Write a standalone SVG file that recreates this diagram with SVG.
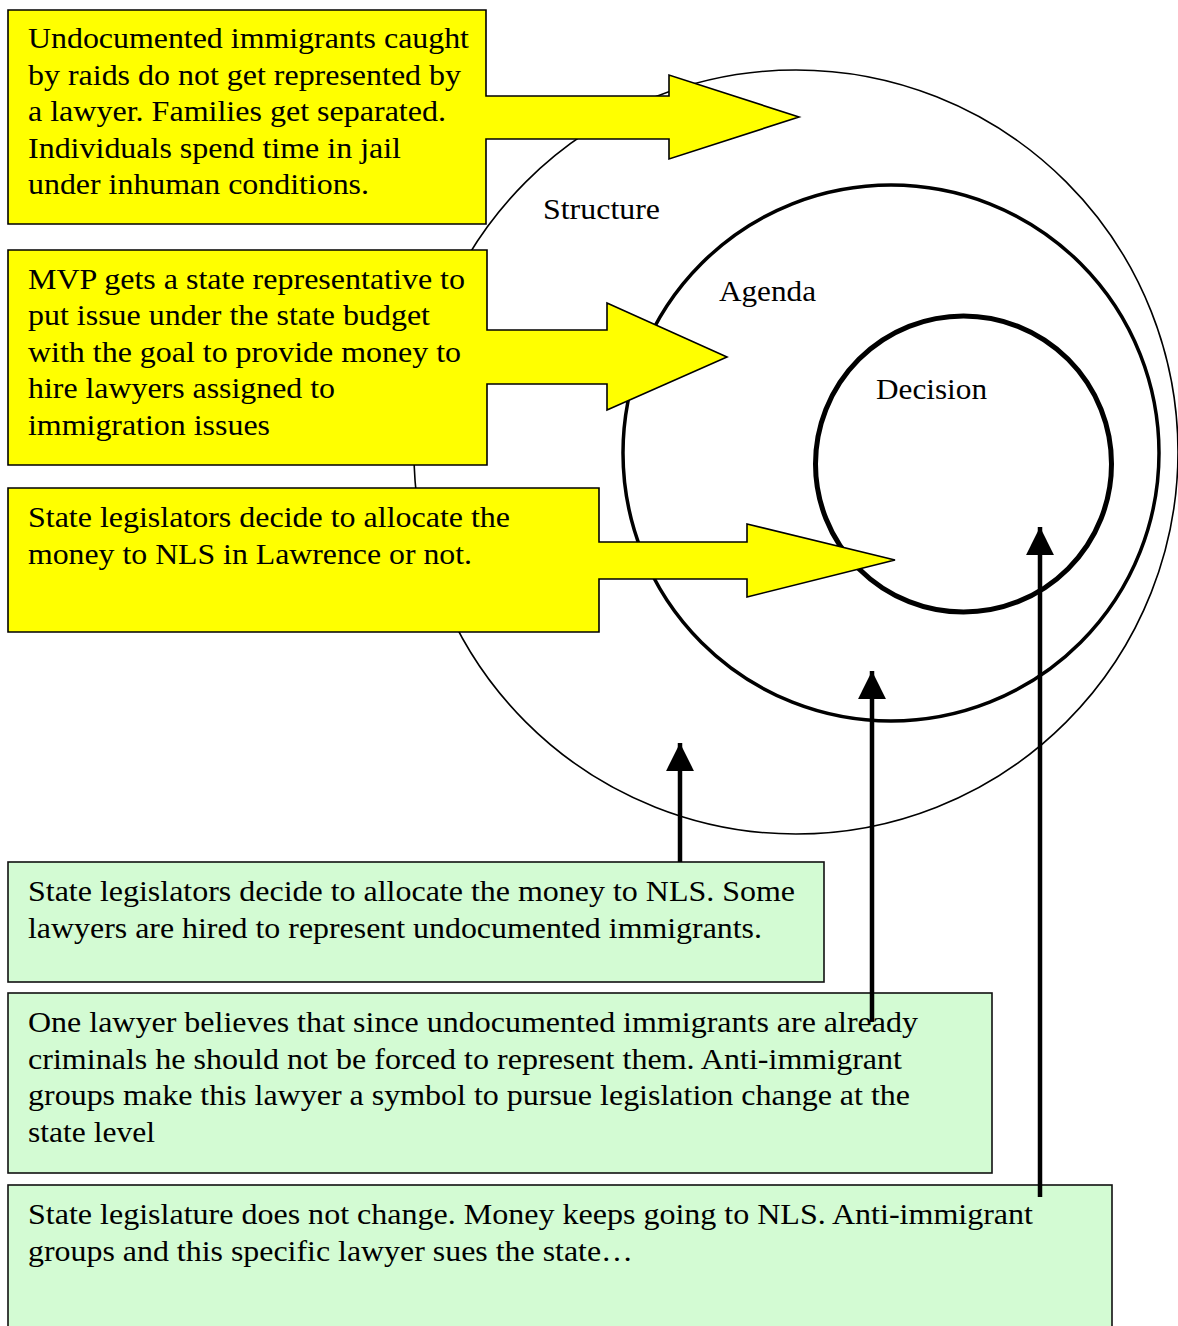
<svg xmlns="http://www.w3.org/2000/svg" width="1178" height="1326" viewBox="0 0 1178 1326" font-family="'Liberation Serif', 'Times New Roman', Tinos, serif">
<style>
text{font-family:'Liberation Serif','Times New Roman',Tinos,serif;font-size:28.5px;fill:#000}
.ring{fill:none;stroke:#000}
.callout{fill:#ffff00;stroke:#000;stroke-width:1.6}
.note{fill:#d3fbd3;stroke:#111;stroke-width:1.6}
.conn{stroke:#000;stroke-width:4.5;fill:none}
</style>
<defs>
<marker id="ah" viewBox="0 0 10 10" refX="10" refY="5" markerWidth="6.2" markerHeight="6.2" markerUnits="strokeWidth" orient="auto">
<path d="M0,0 L10,5 L0,10 Z" fill="#000"/>
</marker>
</defs>
<rect width="1178" height="1326" fill="#fff"/>
<g id="structure">
<circle class="ring" cx="796" cy="452" r="382" stroke-width="1.6"/>
<text x="543" y="219" textLength="117" lengthAdjust="spacingAndGlyphs">Structure</text>
</g>
<g id="agenda">
<circle class="ring" cx="891" cy="453" r="268" stroke-width="3.5"/>
<text x="719" y="301" textLength="97" lengthAdjust="spacingAndGlyphs">Agenda</text>
</g>
<g id="decision">
<circle class="ring" cx="963.5" cy="464" r="148" stroke-width="5"/>
<text x="876" y="399" textLength="111" lengthAdjust="spacingAndGlyphs">Decision</text>
</g>
<g id="callout1">
<path class="callout" d="M8,10 H486 V96 H669 V75 L799,117 L669,159 V139 H486 V224 H8 Z"/>
<text x="28" y="48" textLength="441" lengthAdjust="spacingAndGlyphs">Undocumented immigrants caught</text>
<text x="28" y="85" textLength="433" lengthAdjust="spacingAndGlyphs">by raids do not get represented by</text>
<text x="28" y="121" textLength="418" lengthAdjust="spacingAndGlyphs">a lawyer. Families get separated.</text>
<text x="28" y="158" textLength="373" lengthAdjust="spacingAndGlyphs">Individuals spend time in jail</text>
<text x="28" y="194" textLength="341" lengthAdjust="spacingAndGlyphs">under inhuman conditions.</text>
</g>
<g id="callout2">
<path class="callout" d="M8,250 H487 V330 H607 V303 L727,357 L607,410 V384 H487 V465 H8 Z"/>
<text x="28" y="289" textLength="437" lengthAdjust="spacingAndGlyphs">MVP gets a state representative to</text>
<text x="28" y="325" textLength="402" lengthAdjust="spacingAndGlyphs">put issue under the state budget</text>
<text x="28" y="362" textLength="433" lengthAdjust="spacingAndGlyphs">with the goal to provide money to</text>
<text x="28" y="398" textLength="307" lengthAdjust="spacingAndGlyphs">hire lawyers assigned to</text>
<text x="28" y="435" textLength="242" lengthAdjust="spacingAndGlyphs">immigration issues</text>
</g>
<g id="callout3">
<path class="callout" d="M8,488 H599 V542 H747 V524 L895,560 L747,597 V579 H599 V632 H8 Z"/>
<text x="28" y="527" textLength="482" lengthAdjust="spacingAndGlyphs">State legislators decide to allocate the</text>
<text x="28" y="564" textLength="444" lengthAdjust="spacingAndGlyphs">money to NLS in Lawrence or not.</text>
</g>
<g id="note1">
<rect class="note" x="8" y="862" width="816" height="120"/>
<text x="28" y="901" textLength="767" lengthAdjust="spacingAndGlyphs">State legislators decide to allocate the money to NLS. Some</text>
<text x="28" y="938" textLength="734" lengthAdjust="spacingAndGlyphs">lawyers are hired to represent undocumented immigrants.</text>
</g>
<g id="note2">
<rect class="note" x="8" y="993" width="984" height="180"/>
<text x="28" y="1032" textLength="890" lengthAdjust="spacingAndGlyphs">One lawyer believes that since undocumented immigrants are already</text>
<text x="28" y="1069" textLength="874" lengthAdjust="spacingAndGlyphs">criminals he should not be forced to represent them. Anti-immigrant</text>
<text x="28" y="1105" textLength="882" lengthAdjust="spacingAndGlyphs">groups make this lawyer a symbol to pursue legislation change at the</text>
<text x="28" y="1142" textLength="127" lengthAdjust="spacingAndGlyphs">state level</text>
</g>
<g id="note3">
<rect class="note" x="8" y="1185" width="1104" height="150"/>
<text x="28" y="1224" textLength="1005" lengthAdjust="spacingAndGlyphs">State legislature does not change. Money keeps going to NLS. Anti-immigrant</text>
<text x="28" y="1261" textLength="605" lengthAdjust="spacingAndGlyphs">groups and this specific lawyer sues the state…</text>
</g>
<g id="connectors">
<line class="conn" x1="680" y1="862" x2="680" y2="743" marker-end="url(#ah)"/>
<line class="conn" x1="872" y1="1022" x2="872" y2="671" marker-end="url(#ah)"/>
<line class="conn" x1="1040" y1="1197" x2="1040" y2="527" marker-end="url(#ah)"/>
</g>
</svg>
